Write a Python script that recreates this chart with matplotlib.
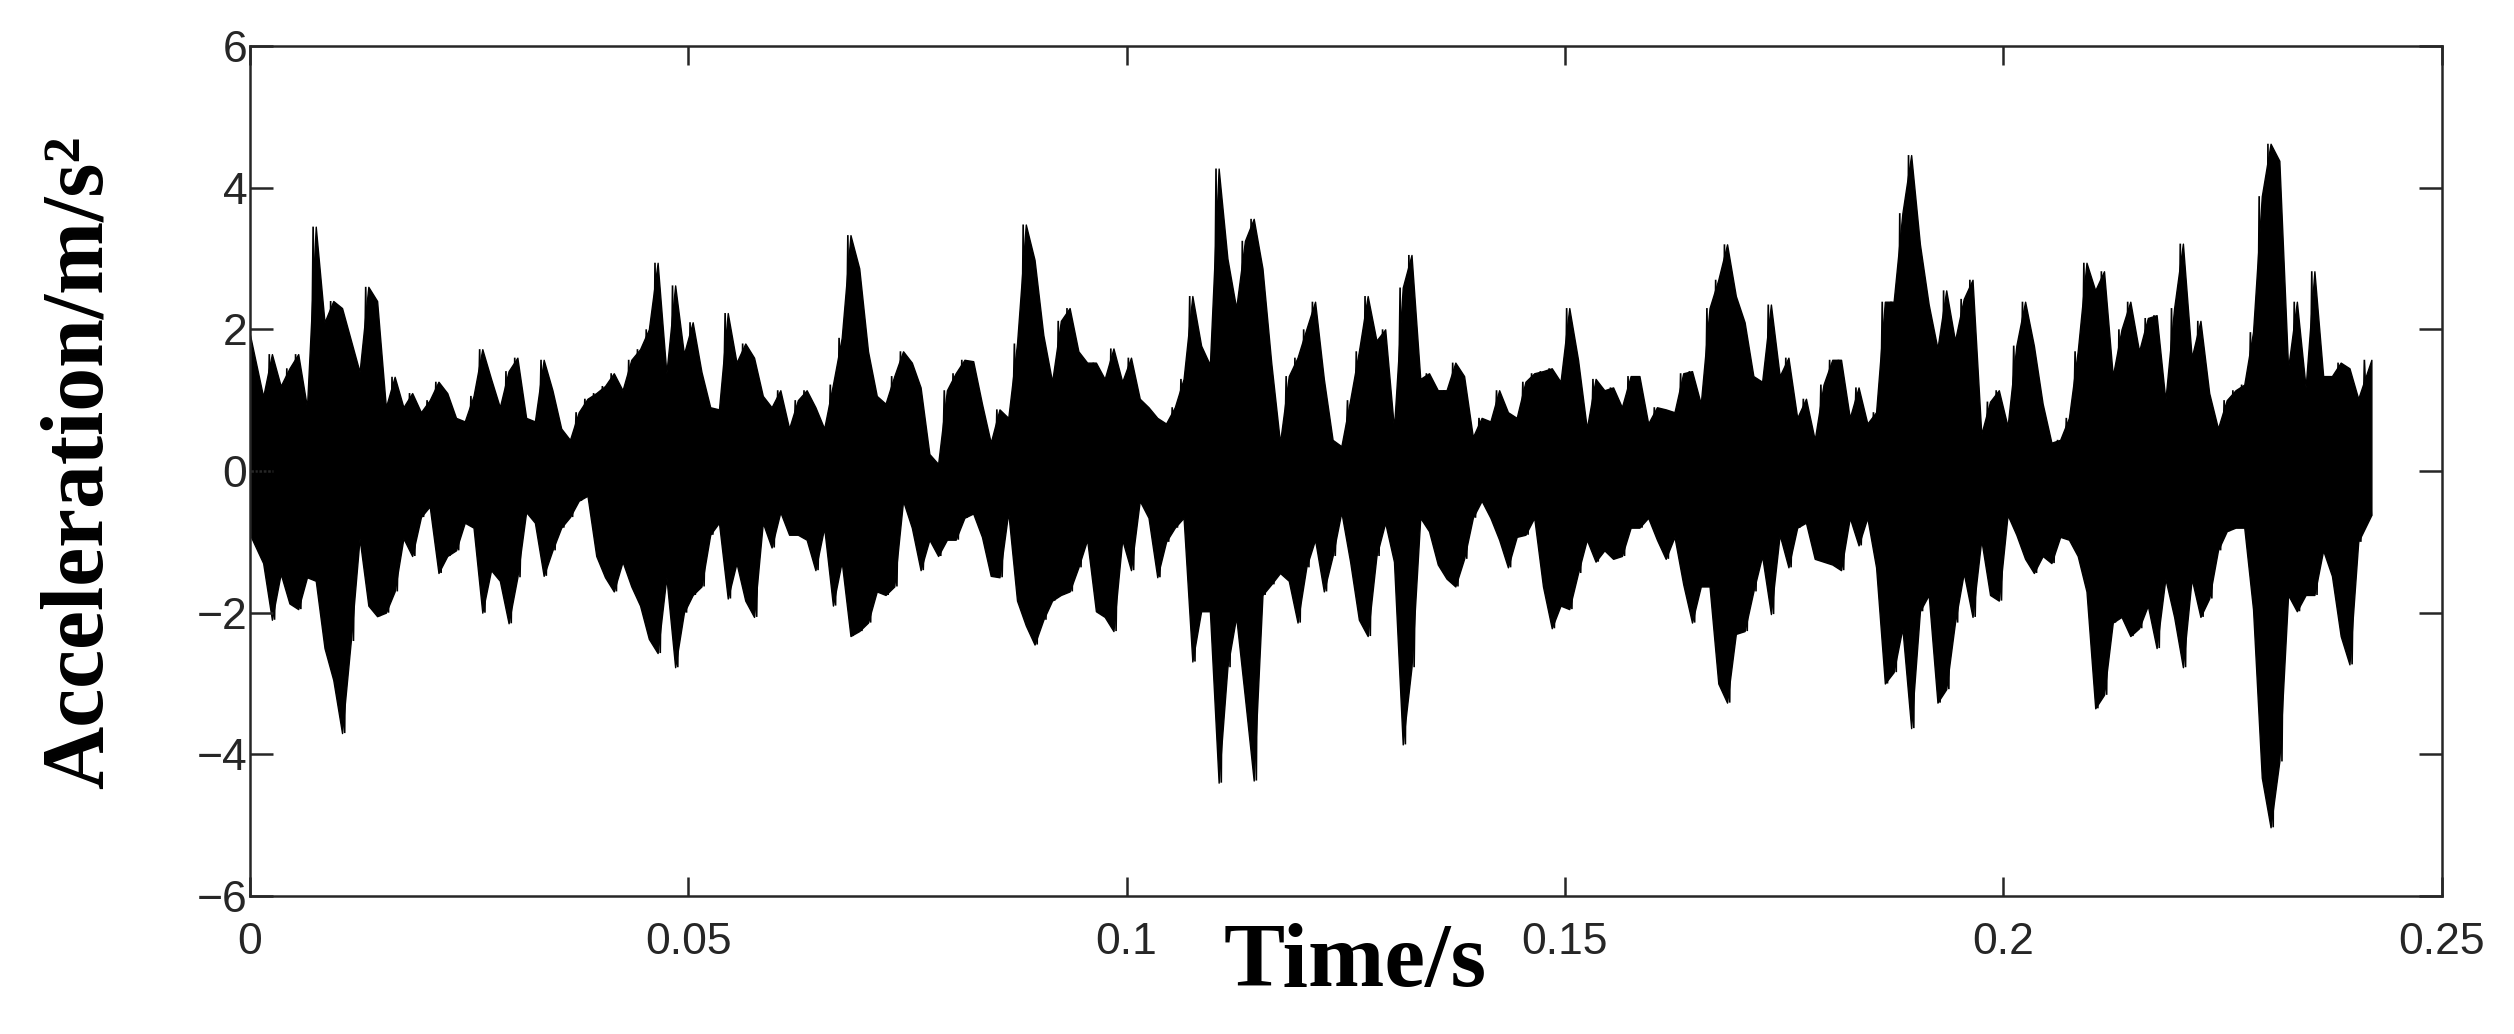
import numpy as np
import matplotlib
matplotlib.use("Agg")
import matplotlib.pyplot as plt

# Envelope of the acceleration signal, read per 1 ms bin (m/s^2)
upper = [1.92, 1.05, 1.65, 1.2, 1.45, 1.65, 0.9, 3.45, 2.1, 2.4,
         2.3, 1.85, 1.4, 2.6, 2.4, 0.9, 1.33, 0.9, 1.1, 0.83,
         1.0, 1.26, 1.1, 0.75, 0.7, 1.06, 1.72, 1.3, 0.9, 1.41,
         1.6, 0.75, 0.7, 1.57, 1.14, 0.6, 0.44, 0.83, 1.02, 1.1,
         1.2, 1.38, 1.14, 1.57, 1.72, 2.0, 2.94, 1.38, 2.62, 1.65,
         2.1, 1.4, 0.9, 0.87, 2.23, 1.53, 1.8, 1.6, 1.06, 0.9,
         1.14, 0.6, 1.0, 1.14, 0.9, 0.6, 1.22, 1.88, 3.33, 2.86,
         1.69, 1.06, 0.95, 1.34, 1.69, 1.53, 1.18, 0.24, 0.1, 1.14,
         1.38, 1.57, 1.55, 0.95, 0.4, 0.87, 0.75, 1.8, 3.48, 2.98,
         1.92, 1.26, 2.12, 2.3, 1.69, 1.53, 1.53, 1.3, 1.73, 1.26,
         1.6, 1.02, 0.9, 0.75, 0.67, 0.9, 1.3, 2.47, 1.77, 1.5,
         4.27, 3.0, 2.3, 3.25, 3.56, 2.86, 1.53, 0.4, 1.34, 1.6,
         2.0, 2.39, 1.3, 0.44, 0.35, 1.0, 1.69, 2.47, 1.84, 2.0,
         0.6, 2.59, 3.05, 1.3, 1.38, 1.14, 1.14, 1.53, 1.34, 0.48,
         0.75, 0.7, 1.14, 0.83, 0.75, 1.26, 1.38, 1.41, 1.45, 1.26,
         2.3, 1.57, 0.6, 1.3, 1.14, 1.18, 0.9, 1.34, 1.34, 0.67,
         0.9, 0.87, 0.83, 1.38, 1.41, 0.95, 2.3, 2.7, 3.2, 2.47,
         2.1, 1.34, 1.26, 2.35, 1.34, 1.6, 0.75, 1.02, 0.44, 1.22,
         1.57, 1.57, 0.75, 1.18, 0.67, 0.83, 2.39, 2.39, 3.64, 4.46,
         3.2, 2.35, 1.73, 2.55, 1.84, 2.43, 2.7, 0.52, 0.98, 1.14,
         0.63, 1.77, 2.39, 1.77, 0.95, 0.4, 0.44, 0.75, 1.69, 2.94,
         2.55, 2.82, 1.34, 2.0, 2.39, 1.69, 2.16, 2.2, 1.0, 2.3,
         3.21, 1.6, 2.12, 1.1, 0.6, 1.0, 1.14, 1.22, 1.96, 3.88,
         4.62, 4.38, 1.45, 2.39, 1.18, 2.82, 1.34, 1.34, 1.53, 1.45,
         1.02, 1.57]
lower = [-0.9, -1.3, -2.1, -1.45, -1.87, -1.95, -1.5, -1.55, -2.5, -2.95,
         -3.7, -2.4, -0.95, -1.9, -2.05, -2.0, -1.7, -0.95, -1.2, -0.65,
         -0.5, -1.44, -1.2, -1.12, -0.73, -0.8, -2.0, -1.4, -1.55, -2.15,
         -1.5, -0.58, -0.73, -1.48, -1.12, -0.8, -0.65, -0.42, -0.35, -1.2,
         -1.5, -1.7, -1.28, -1.63, -1.9, -2.37, -2.57, -1.5, -2.77, -2.0,
         -1.75, -1.63, -0.9, -0.73, -1.8, -1.3, -1.83, -2.06, -0.73, -1.08,
         -0.58, -0.9, -0.9, -0.97, -1.4, -0.8, -1.9, -1.28, -2.33, -2.26,
         -2.14, -1.7, -1.75, -1.63, -0.42, -0.8, -1.4, -0.97, -1.2, -0.97,
         -0.97, -0.66, -0.6, -0.93, -1.48, -1.5, -0.58, -1.83, -2.18, -2.45,
         -2.1, -1.83, -1.75, -1.7, -1.36, -0.97, -1.98, -2.06, -2.26, -0.97,
         -1.4, -0.42, -0.66, -1.5, -1.0, -0.8, -0.66, -2.69, -1.98, -1.98,
         -4.4, -2.77, -2.06, -3.2, -4.37, -1.75, -1.6, -1.44, -1.55, -2.14,
         -1.36, -0.97, -1.7, -1.2, -0.58, -1.28, -2.1, -2.33, -1.2, -0.73,
         -1.28, -3.86, -2.77, -0.66, -0.85, -1.32, -1.52, -1.63, -1.24, -0.66,
         -0.42, -0.66, -0.97, -1.36, -0.93, -0.9, -0.66, -1.63, -2.22, -1.9,
         -1.95, -1.44, -0.97, -1.28, -1.12, -1.24, -1.2, -0.8, -0.8, -0.66,
         -0.97, -1.24, -0.93, -1.6, -2.14, -1.63, -1.63, -3.0, -3.27, -2.3,
         -2.26, -1.7, -1.2, -2.02, -0.9, -1.36, -0.8, -0.73, -1.24, -1.28,
         -1.32, -1.4, -0.66, -1.05, -0.66, -1.36, -3.0, -2.84, -2.22, -3.63,
         -1.98, -1.75, -3.27, -3.08, -2.14, -1.44, -2.06, -0.97, -1.75, -1.83,
         -0.62, -0.9, -1.24, -1.44, -1.2, -1.3, -0.93, -0.97, -1.2, -1.7,
         -3.35, -3.16, -2.14, -2.06, -2.33, -2.22, -1.9, -2.5, -1.52, -2.06,
         -2.77, -1.52, -2.06, -1.8, -1.12, -0.85, -0.8, -0.8, -1.95, -4.33,
         -5.03, -4.1, -1.75, -1.98, -1.75, -1.75, -1.12, -1.48, -2.33, -2.73,
         -1.0, -0.62]
t_end = 0.242
x_ticks = [0, 0.05, 0.1, 0.15, 0.2, 0.25]
x_tick_labels = ["0", "0.05", "0.1", "0.15", "0.2", "0.25"]
y_ticks = [-6, -4, -2, 0, 2, 4, 6]
y_tick_labels = ["\u22126", "\u22124", "\u22122", "0", "2", "4", "6"]

W, H = 2514, 1034
fig = plt.figure(figsize=(W / 100, H / 100), dpi=100)
ax = fig.add_axes([250 / W, 138 / H, 2191.5 / W, 850 / H])

up = np.asarray(upper)
lo = np.asarray(lower)
n = len(up)
dt = t_end / n
t0 = np.arange(n) * dt

# dense band between the envelopes
tc = t0 + dt / 2
tc[0] = 0.0
tc[-1] = t_end
ax.fill_between(tc, lo, up, color="black", linewidth=1.0, edgecolor="black")

# signal trace: each 1 ms bin swings from its peak to its trough
tz = np.empty(2 * n)
yz = np.empty(2 * n)
tz[0::2] = t0 + 0.2 * dt
tz[1::2] = t0 + 0.8 * dt
yz[0::2] = up
yz[1::2] = lo
tz[0] = 0.0
tz[-1] = t_end
ax.plot(tz, yz, color="black", linewidth=1.2, solid_joinstyle="miter")

ax.set_xlim(0, 0.25)
ax.set_ylim(-6, 6)
ax.set_xticks(x_ticks)
ax.set_xticklabels(x_tick_labels)
ax.set_yticks(y_ticks)
ax.set_yticklabels(y_tick_labels)

gray = "#262626"
for s in ax.spines.values():
    s.set_color(gray)
    s.set_linewidth(1.8)
ax.tick_params(axis="both", direction="in", top=True, right=True,
               width=1.8, color=gray, labelcolor=gray, labelsize=32)
ax.tick_params(axis="x", length=14, pad=19)
ax.tick_params(axis="y", length=16.5, pad=2)
for lab in ax.get_xticklabels() + ax.get_yticklabels():
    lab.set_family("Liberation Sans")

fig.text(1355 / W, 1 - 986 / H, "Time/s", ha="center", va="baseline",
         fontsize=66, fontweight="bold", family="Liberation Serif")
fig.text(80 / W, 1 - 462 / H, "Acceleration/m/s\u00b2", rotation=90,
         ha="center", va="center", fontsize=63, fontweight="bold",
         family="Liberation Serif")

fig.savefig("out.png", dpi=100)
